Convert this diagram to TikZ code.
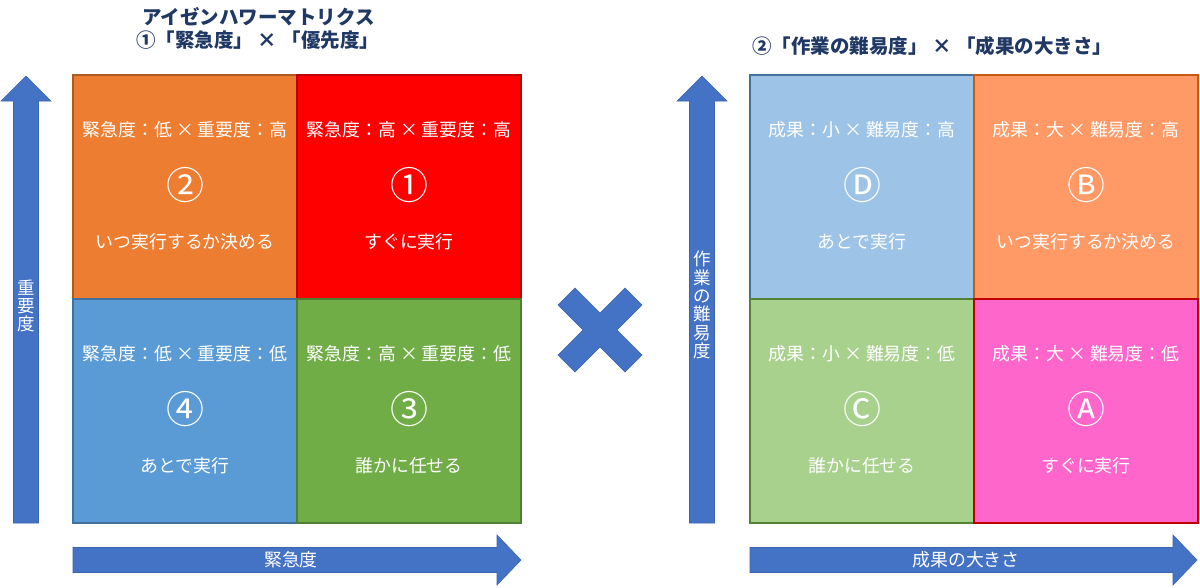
\documentclass[tikz,border=0pt]{standalone}
\usepackage{fontspec}
\setmainfont{Noto Sans CJK JP}
\definecolor{arrowblue}{HTML}{4472C4}
\definecolor{arrowedge}{HTML}{3B64AE}
\definecolor{navy}{HTML}{203864}
\definecolor{cOrange}{HTML}{ED7D31}
\definecolor{cOrangeD}{HTML}{AE5A21}
\definecolor{cRed}{HTML}{FF0000}
\definecolor{cRedD}{HTML}{C00000}
\definecolor{cBlue}{HTML}{5B9BD5}
\definecolor{cBlueD}{HTML}{41719C}
\definecolor{cGreen}{HTML}{70AD47}
\definecolor{cGreenD}{HTML}{507E32}
\definecolor{cLBlue}{HTML}{9DC3E6}
\definecolor{cLOrange}{HTML}{FF9966}
\definecolor{cLOrangeD}{HTML}{C55A11}
\definecolor{cLGreen}{HTML}{A9D18E}
\definecolor{cLGreenD}{HTML}{548235}
\definecolor{cPink}{HTML}{FF66CC}
\begin{document}
\begin{tikzpicture}[x=1pt,y=-1pt,
  cell/.style={draw, line width=1.5pt, minimum width=224pt, minimum height=224pt, inner sep=0pt, outer sep=0pt},
  txt/.style={text=white, font=\fontsize{17.9}{20}\selectfont, inner sep=0pt},
  num/.style={text=white, font=\fontsize{38}{40}\selectfont, inner sep=0pt},
  vtxt/.style={text=white, font=\fontsize{17.5}{18.3}\selectfont, inner sep=0pt, align=center},
  ttl/.style={text=navy, font=\bfseries\fontsize{19.5}{22}\selectfont, inner sep=0pt, anchor=west},
  bigarrow/.style={fill=arrowblue, draw=arrowedge, line width=0.6pt}
]
\useasboundingbox (0,0) rectangle (1200,587);
\fill[white] (0,0) rectangle (1200,587);

% titles
\node[ttl] (t1) at (142,17) {アイゼンハワーマトリクス};
\node[ttl] (t2) at (136,40) {①「緊急度」 × 「優先度」};
\node[ttl] (t3) at (752,46) {②「作業の難易度」 × 「成果の大きさ」};

% left arrows
\draw[bigarrow] (13.5,523) -- (13.5,101) -- (1,101) -- (26,76) -- (51,101) -- (38.5,101) -- (38.5,523) -- cycle;
\node[vtxt] (vl) at (26,306) {重\\要\\度};
\draw[bigarrow] (73,547.5) -- (497,547.5) -- (497,535) -- (521,560) -- (497,585) -- (497,572.5) -- (73,572.5) -- cycle;
\node[txt] (hl) at (291,560) {緊急度};

% right arrows
\draw[bigarrow] (689.5,523) -- (689.5,101) -- (677,101) -- (702,76) -- (727,101) -- (714.5,101) -- (714.5,523) -- cycle;
\node[vtxt] (vr) at (702,305) {作\\業\\の\\難\\易\\度};
\draw[bigarrow] (750,547.5) -- (1173,547.5) -- (1173,535) -- (1197,560) -- (1173,585) -- (1173,572.5) -- (750,572.5) -- cycle;
\node[txt] (hr) at (966,560) {成果の大きさ};

% left matrix
\node[cell, fill=cOrange, draw=cOrangeD] (q2) at (185,187) {};
\node[cell, fill=cRed, draw=cRedD] (q1) at (409,187) {};
\node[cell, fill=cBlue, draw=cBlueD] (q4) at (185,411) {};
\node[cell, fill=cGreen, draw=cGreenD] (q3) at (409,411) {};

\node[txt] (q2a) at ([yshift=57pt]q2.center) {緊急度：低 × 重要度：高};
\node[num] (q2b) at ([yshift=2pt]q2.center) {②};
\node[txt] (q2c) at ([yshift=-55pt]q2.center) {いつ実行するか決める};

\node[txt] (q1a) at ([yshift=57pt]q1.center) {緊急度：高 × 重要度：高};
\node[num] (q1b) at ([yshift=2pt]q1.center) {①};
\node[txt] (q1c) at ([yshift=-55pt]q1.center) {すぐに実行};

\node[txt] (q4a) at ([yshift=57pt]q4.center) {緊急度：低 × 重要度：低};
\node[num] (q4b) at ([yshift=2pt]q4.center) {④};
\node[txt] (q4c) at ([yshift=-55pt]q4.center) {あとで実行};

\node[txt] (q3a) at ([yshift=57pt]q3.center) {緊急度：高 × 重要度：低};
\node[num] (q3b) at ([yshift=2pt]q3.center) {③};
\node[txt] (q3c) at ([yshift=-55pt]q3.center) {誰かに任せる};

% big cross
\begin{scope}[shift={(600,330)}, rotate=45]
\draw[bigarrow] (12,12) -- (47.4,12) -- (47.4,-12) -- (12,-12) -- (12,-47.4) -- (-12,-47.4) -- (-12,-12) -- (-47.4,-12) -- (-47.4,12) -- (-12,12) -- (-12,47.4) -- (12,47.4) -- cycle;
\end{scope}

% right matrix
\node[cell, fill=cLBlue, draw=cBlueD] (rd) at (862,187) {};
\node[cell, fill=cLOrange, draw=cLOrangeD] (rb) at (1086,187) {};
\node[cell, fill=cLGreen, draw=cLGreenD] (rc) at (862,411) {};
\node[cell, fill=cPink, draw=cRedD, line width=2.5pt] (ra) at (1086,411) {};

\node[txt] (rda) at ([yshift=57pt]rd.center) {成果：小 × 難易度：高};
\node[num] (rdb) at ([yshift=2pt]rd.center) {Ⓓ};
\node[txt] (rdc) at ([yshift=-55pt]rd.center) {あとで実行};

\node[txt] (rba) at ([yshift=57pt]rb.center) {成果：大 × 難易度：高};
\node[num] (rbb) at ([yshift=2pt]rb.center) {Ⓑ};
\node[txt] (rbc) at ([yshift=-55pt]rb.center) {いつ実行するか決める};

\node[txt] (rca) at ([yshift=57pt]rc.center) {成果：小 × 難易度：低};
\node[num] (rcb) at ([yshift=2pt]rc.center) {Ⓒ};
\node[txt] (rcc) at ([yshift=-55pt]rc.center) {誰かに任せる};

\node[txt] (raa) at ([yshift=57pt]ra.center) {成果：大 × 難易度：低};
\node[num] (rab) at ([yshift=2pt]ra.center) {Ⓐ};
\node[txt] (rac) at ([yshift=-55pt]ra.center) {すぐに実行};
\end{tikzpicture}
\end{document}
